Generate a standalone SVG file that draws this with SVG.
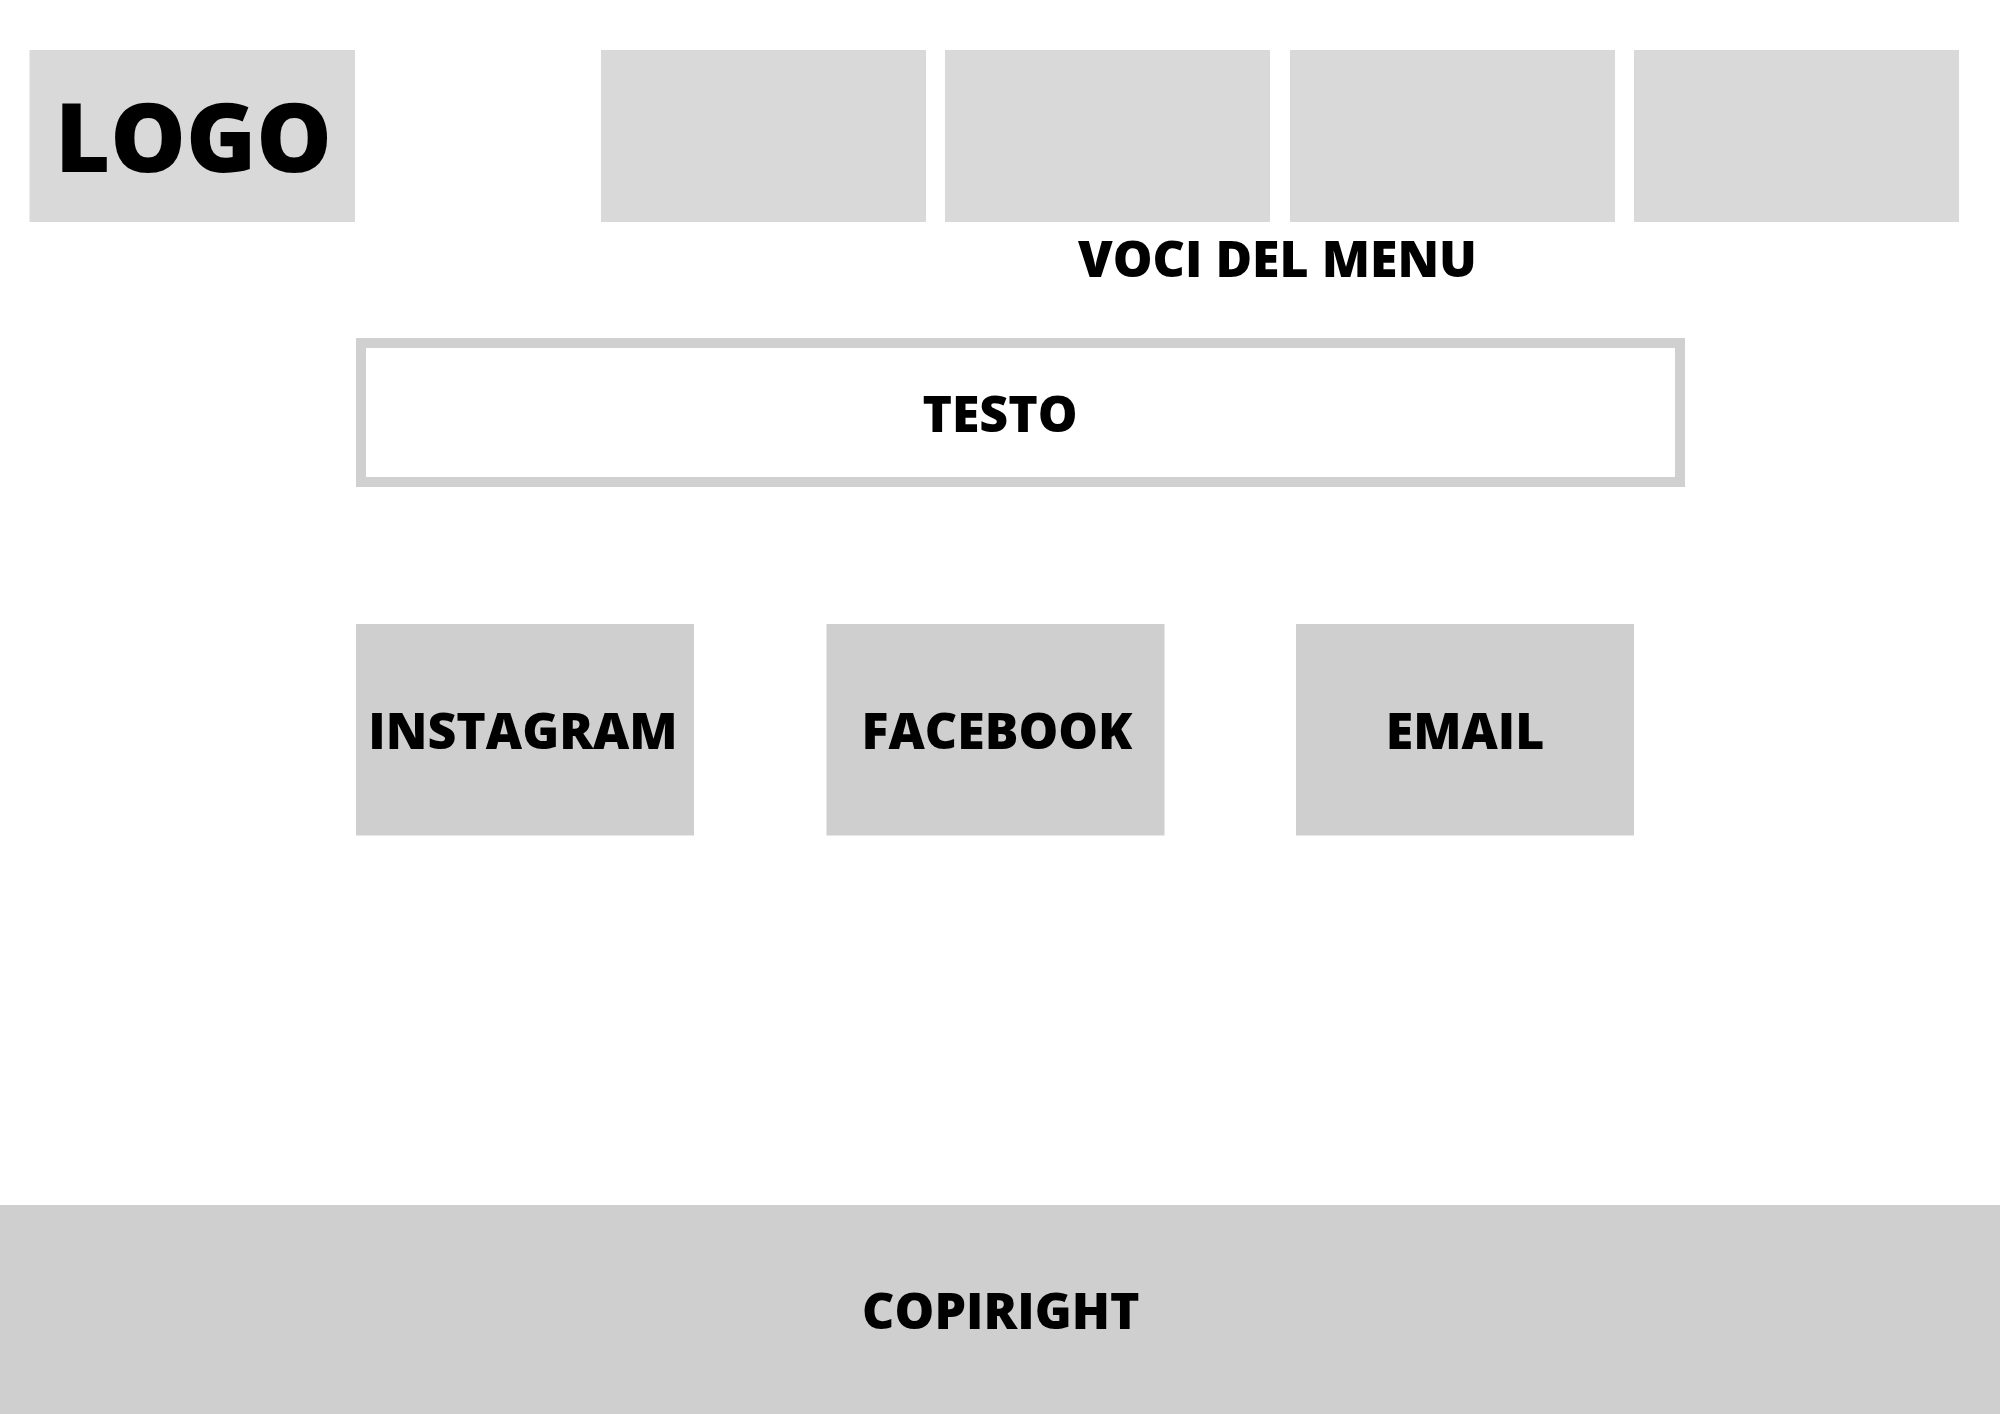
<svg xmlns="http://www.w3.org/2000/svg" width="2000" height="1414" viewBox="0 0 2000 1414">
<style>
.box{fill:#d9d9d9}
.soc{fill:#cfcfcf}
.t{font-family:"Open Sans","Liberation Sans",sans-serif;font-weight:800;fill:#000;text-anchor:middle;font-size:50px}
</style>
<rect width="2000" height="1414" fill="#fff"/>
<g id="logo">
<rect class="box" x="29.5" y="50" width="325.5" height="172"/>
<text class="t" x="193.5" y="172" style="font-size:95px">LOGO</text>
</g>
<g id="menu">
<rect class="box" x="601" y="50" width="325" height="172"/>
<rect class="box" x="945" y="50" width="325" height="172"/>
<rect class="box" x="1290" y="50" width="325" height="172"/>
<rect class="box" x="1634" y="50" width="325" height="172"/>
<text class="t" x="1277.5" y="277">VOCI DEL MENU</text>
</g>
<g id="testo">
<rect x="361" y="343" width="1319" height="139" fill="#fff" stroke="#d0d0d0" stroke-width="10"/>
<text class="t" x="1000" y="432">TESTO</text>
</g>
<g id="instagram">
<rect class="soc" x="356" y="624" width="338" height="211.5"/>
<text class="t" x="523" y="749">INSTAGRAM</text>
</g>
<g id="facebook">
<rect class="soc" x="826.5" y="624" width="338" height="211.5"/>
<text class="t" x="997" y="749">FACEBOOK</text>
</g>
<g id="email">
<rect class="soc" x="1296" y="624" width="338" height="211.5"/>
<text class="t" x="1465" y="749">EMAIL</text>
</g>
<g id="footer">
<rect class="soc" x="0" y="1205" width="2000" height="209"/>
<text class="t" x="1000.8" y="1329">COPIRIGHT</text>
</g>
<g id="connectors"></g>
</svg>
